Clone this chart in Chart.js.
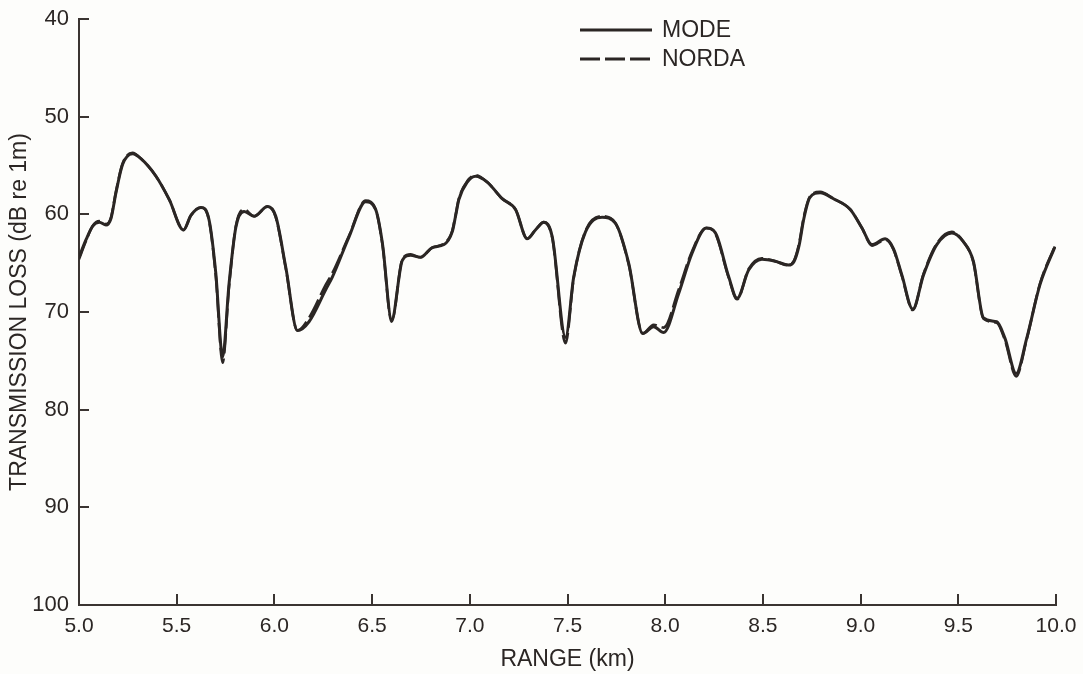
<!DOCTYPE html>
<html>
<head>
<meta charset="utf-8">
<script src="https://cdn.jsdelivr.net/npm/chart.js@4.4.1/dist/chart.umd.min.js"></script>
<style>
  html, body { margin: 0; padding: 0; background: #fdfdfb; }
  #wrap { width: 1083px; height: 674px; position: relative; }
</style>
</head>
<body>
<div id="wrap"><canvas id="c" width="1083" height="674"></canvas></div>
<script>
// ---- data ----
const rangeKm = [5.00, 5.036, 5.07, 5.104, 5.138, 5.164, 5.189, 5.223, 5.274, 5.317, 5.394, 5.462, 5.535, 5.573, 5.624, 5.666, 5.70, 5.735, 5.768, 5.803, 5.845, 5.896, 5.965, 6.007, 6.058, 6.118, 6.177, 6.263, 6.297, 6.382, 6.467, 6.518, 6.553, 6.600, 6.655, 6.697, 6.748, 6.808, 6.868, 6.91, 6.927, 6.944, 6.987, 7.03, 7.089, 7.166, 7.234, 7.294, 7.336, 7.379, 7.422, 7.49, 7.532, 7.592, 7.677, 7.745, 7.813, 7.885, 7.941, 7.992, 8.069, 8.137, 8.21, 8.257, 8.325, 8.368, 8.427, 8.495, 8.563, 8.631, 8.66, 8.685, 8.71, 8.74, 8.793, 8.861, 8.947, 9.007, 9.058, 9.126, 9.168, 9.211, 9.267, 9.322, 9.39, 9.467, 9.526, 9.577, 9.629, 9.697, 9.739, 9.796, 9.85, 9.918, 9.995];
const modeLoss = [64.4, 62.6, 61.2, 60.8, 61.1, 60.4, 57.8, 54.9, 53.8, 54.3, 56.1, 58.5, 61.6, 60.1, 59.3, 60.6, 66.0, 74.6, 67.1, 61.3, 59.7, 60.2, 59.2, 60.2, 65.4, 71.9, 71.0, 67.7, 66.4, 62.3, 58.7, 59.5, 63.0, 70.8, 64.7, 64.2, 64.4, 63.4, 63.1, 61.8, 60.2, 58.5, 56.7, 56.1, 56.7, 58.4, 59.5, 62.5, 61.6, 60.8, 62.3, 72.6, 66.4, 61.8, 60.3, 60.9, 65.0, 72.2, 71.5, 72.1, 68.1, 64.0, 61.4, 61.9, 66.4, 68.6, 65.7, 64.6, 64.8, 65.2, 64.8, 63.2, 60.4, 58.3, 57.8, 58.4, 59.5, 61.4, 63.1, 62.5, 63.5, 66.2, 69.7, 66.2, 63.1, 61.9, 62.8, 64.8, 70.6, 71.0, 72.7, 76.3, 72.7, 67.2, 63.3];
const nordaLoss = [64.6, 62.7, 61.2, 60.7, 61.0, 60.3, 57.7, 54.8, 53.7, 54.3, 56.1, 58.5, 61.6, 60.1, 59.3, 60.7, 66.3, 75.2, 67.4, 61.2, 59.5, 60.2, 59.2, 60.3, 65.5, 71.9, 70.6, 67.2, 66.0, 62.2, 58.6, 59.5, 63.1, 71.0, 64.6, 64.1, 64.4, 63.4, 63.0, 61.7, 60.1, 58.4, 56.6, 56.0, 56.7, 58.4, 59.5, 62.5, 61.6, 60.8, 62.4, 73.2, 66.5, 61.7, 60.2, 60.9, 65.1, 72.2, 71.3, 71.6, 67.7, 63.8, 61.4, 62.0, 66.5, 68.7, 65.6, 64.5, 64.8, 65.2, 64.7, 63.0, 60.2, 58.2, 57.7, 58.4, 59.5, 61.4, 63.2, 62.6, 63.6, 66.3, 69.8, 66.1, 63.0, 61.8, 62.8, 64.9, 70.7, 71.1, 72.9, 76.6, 72.8, 67.1, 63.2];
const seriesNames = ['MODE', 'NORDA'];
const xTickValues = [5.0, 5.5, 6.0, 6.5, 7.0, 7.5, 8.0, 8.5, 9.0, 9.5, 10.0];
const xTickLabels = ['5.0', '5.5', '6.0', '6.5', '7.0', '7.5', '8.0', '8.5', '9.0', '9.5', '10.0'];
const yTickValues = [40, 50, 60, 70, 80, 90, 100];
const yTickLabels = ['40', '50', '60', '70', '80', '90', '100'];
const xTitle = 'RANGE (km)';
const yTitle = 'TRANSMISSION LOSS (dB re 1m)';

// ---- styling ----
const INK = '#2b2624';
const AXIS = '#3a3431';
const FONT = "'Liberation Sans', Arial, Helvetica, sans-serif";

const toPoints = (xs, ys) => xs.map((x, i) => ({ x: x, y: ys[i] }));

const bgPlugin = {
  id: 'bg',
  beforeDraw(chart) {
    const ctx = chart.ctx;
    ctx.save();
    ctx.fillStyle = '#fdfdfb';
    ctx.fillRect(0, 0, chart.width, chart.height);
    ctx.restore();
  }
};

// inward tick marks drawn at the scales' own tick positions
const innerTicks = {
  id: 'innerTicks',
  afterDraw(chart) {
    const ctx = chart.ctx;
    const xs = chart.scales.x, ys = chart.scales.y;
    const area = chart.chartArea;
    ctx.save();
    ctx.strokeStyle = AXIS;
    ctx.lineWidth = 2;
    ctx.beginPath();
    yTickValues.forEach(v => {
      if (v === 100) return;
      const p = Math.round(ys.getPixelForValue(v));
      ctx.moveTo(area.left, p);
      ctx.lineTo(area.left + 10, p);
    });
    xTickValues.forEach(v => {
      if (v === 5.0) return;
      const p = Math.round(xs.getPixelForValue(v));
      ctx.moveTo(p, area.bottom);
      ctx.lineTo(p, area.bottom - 11);
    });
    ctx.stroke();
    ctx.restore();
  }
};

const legendPlugin = {
  id: 'customLegend',
  afterDraw(chart) {
    const ctx = chart.ctx;
    ctx.save();
    ctx.font = "23px " + FONT;
    ctx.textBaseline = 'middle';
    ctx.fillStyle = INK;
    const rows = [{ y: 30, ds: chart.data.datasets[1] }, { y: 59, ds: chart.data.datasets[0] }];
    rows.forEach(r => {
      ctx.strokeStyle = INK;
      ctx.lineWidth = 3;
      ctx.setLineDash(r.ds.borderDash || []);
      ctx.beginPath();
      ctx.moveTo(580, r.y);
      ctx.lineTo(652, r.y);
      ctx.stroke();
      ctx.setLineDash([]);
      ctx.fillText(r.ds.label, 662, r.y + 1);
    });
    ctx.restore();
  }
};

new Chart(document.getElementById('c'), {
  type: 'line',
  data: {
    datasets: [
      {
        label: seriesNames[1],
        data: toPoints(rangeKm, nordaLoss),
        borderColor: INK,
        borderWidth: 2.6,
        borderDash: [20, 5],
        pointRadius: 0,
        fill: false,
        cubicInterpolationMode: 'monotone'
      },
      {
        label: seriesNames[0],
        data: toPoints(rangeKm, modeLoss),
        borderColor: INK,
        borderWidth: 3,
        pointRadius: 0,
        fill: false,
        cubicInterpolationMode: 'monotone'
      }
    ]
  },
  options: {
    responsive: false,
    animation: false,
    devicePixelRatio: 1,
    layout: { padding: { left: 0, top: 19, right: 27, bottom: 0 } },
    plugins: { legend: { display: false }, tooltip: { enabled: false } },
    scales: {
      x: {
        type: 'linear',
        min: 5.0,
        max: 10.0,
        afterFit(s) { s.height = 69; s.paddingLeft = 0; s.paddingRight = 0; },
        afterBuildTicks(s) { s.ticks = xTickValues.map(v => ({ value: v })); },
        grid: { display: false, drawTicks: false },
        border: { display: true, color: AXIS, width: 2 },
        ticks: {
          color: INK,
          font: { family: FONT, size: 21 },
          padding: 9,
          maxRotation: 0,
          autoSkip: false,
          callback: (v, i) => xTickLabels[i]
        },
        title: {
          display: true,
          text: xTitle,
          color: INK,
          font: { family: FONT, size: 23 },
          padding: { top: 0, bottom: 1 }
        }
      },
      y: {
        type: 'linear',
        reverse: true,
        min: 40,
        max: 100,
        afterFit(s) { s.width = 79; s.paddingTop = 0; s.paddingBottom = 0; },
        afterBuildTicks(s) { s.ticks = yTickValues.map(v => ({ value: v })); },
        grid: { display: false, drawTicks: false },
        border: { display: true, color: AXIS, width: 2 },
        ticks: {
          color: INK,
          font: { family: FONT, size: 22 },
          padding: 10,
          autoSkip: false,
          callback: (v, i) => yTickLabels[i]
        },
        title: {
          display: true,
          text: yTitle,
          color: INK,
          font: { family: FONT, size: 23 },
          padding: { top: 6, bottom: 0 }
        }
      }
    }
  },
  plugins: [bgPlugin, innerTicks, legendPlugin]
});
</script>
</body>
</html>
